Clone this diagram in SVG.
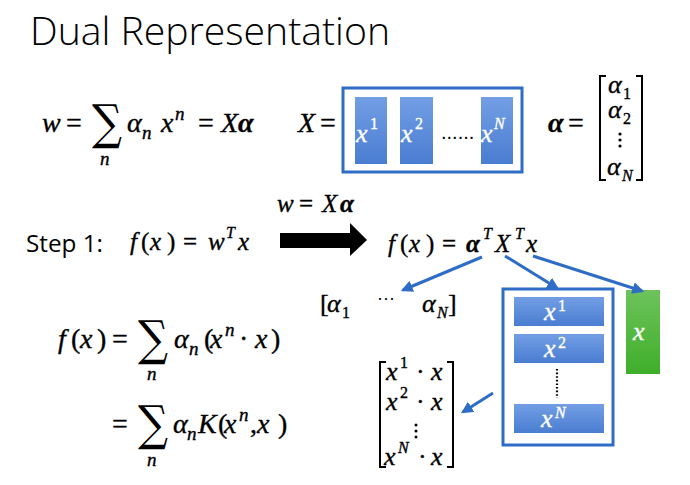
<svg xmlns="http://www.w3.org/2000/svg" width="690" height="485" viewBox="0 0 690 485">
<style>
.m{font-family:"Liberation Serif","DejaVu Serif",serif;font-style:italic;font-size:28px;fill:#000;stroke:#000;stroke-width:0.35px}
.u{font-style:normal}
.b{font-weight:bold}
.s{font-size:19px}
.f25{font-size:25px}
.f26{font-size:26px}
.f15{font-size:16px}
.f16{font-size:16px}
.w{fill:#fff;stroke:#fff}
.sum{font-family:"DejaVu Serif",serif;font-size:48px;font-style:normal}
.br{fill:none;stroke:#000;stroke-width:2}
.box{fill:#fff;stroke:#2E6CC6;stroke-width:3}
.bl{fill:url(#gb)}
.gr{fill:url(#gg)}
.con{stroke:#2E6CC6;stroke-width:3;fill:none;marker-end:url(#ah)}
</style>
<defs>
<linearGradient id="gb" x1="0" y1="0" x2="0" y2="1"><stop offset="0" stop-color="#729EE4"/><stop offset="1" stop-color="#4A7DD1"/></linearGradient>
<linearGradient id="gg" x1="0" y1="0" x2="0" y2="1"><stop offset="0" stop-color="#6DC35B"/><stop offset="1" stop-color="#3FAE2A"/></linearGradient>
<marker id="ah" markerWidth="4" markerHeight="4" refX="3.2" refY="2" orient="auto" markerUnits="strokeWidth"><path d="M0,0 L4,2 L0,4 z" fill="#2E6CC6"/></marker>
</defs>
<rect width="690" height="485" fill="#fff"/>
<text x="30" y="45" font-family="Open Sans" font-weight="300" font-size="39" textLength="360" lengthAdjust="spacingAndGlyphs">Dual Representation</text>

<g id="eq-w">
<text class="m" y="132"><tspan x="42">w</tspan><tspan x="66" class="u">=</tspan><tspan x="127">α</tspan><tspan x="161">x</tspan><tspan x="198" class="u">=</tspan><tspan x="221">X</tspan><tspan x="238" class="b">α</tspan></text>
<text class="m s" x="142" y="139">n</text>
<text class="m s" x="175" y="120">n</text>
<text class="sum" x="92" y="139" textLength="30" lengthAdjust="spacingAndGlyphs">∑</text>
<text class="m s" x="100" y="165">n</text>
</g>

<g id="matrix-X">
<text class="m" y="132"><tspan x="298">X</tspan><tspan x="320" class="u">=</tspan></text>
<rect class="box" x="343" y="88" width="179" height="84"/>
<rect class="bl" x="355" y="97" width="32" height="67"/>
<rect class="bl" x="400" y="97" width="33" height="67"/>
<rect class="bl" x="481" y="97" width="32" height="67"/>
<text class="m w f26" x="356" y="142">x</text><text class="m w u f16" x="370" y="129">1</text>
<text class="m w f26" x="401" y="142">x</text><text class="m w u f16" x="415" y="129">2</text>
<text class="m w f26" x="481" y="142">x</text><text class="m w f16" x="494" y="129">N</text>
<text x="441" y="139" font-family="Liberation Sans" font-size="20">......</text>
</g>

<g id="vector-alpha">
<text class="m b" x="548" y="132">α</text><text class="m u" x="568" y="132">=</text>
<path class="br" d="M606,76 H600 V180 H606 M636,76 H642 V180 H636"/>
<text class="m f26" x="608" y="93">α</text><text class="m u f16" x="623" y="99">1</text>
<text class="m f26" x="608" y="118">α</text><text class="m u f16" x="623" y="124">2</text>
<circle cx="620" cy="134" r="1.6"/><circle cx="620" cy="140" r="1.6"/><circle cx="620" cy="146" r="1.6"/>
<text class="m f26" x="607" y="175">α</text><text class="m f16" x="622" y="181">N</text>
</g>

<g id="step1">
<text x="26" y="252" font-family="Open Sans" font-size="24" textLength="77" lengthAdjust="spacingAndGlyphs">Step 1:</text>
<text class="m f25" y="250"><tspan x="130">f</tspan><tspan x="141" class="u">(</tspan><tspan x="150">x</tspan><tspan x="167" class="u">)</tspan><tspan x="183" class="u">=</tspan><tspan x="208">w</tspan><tspan x="238">x</tspan></text>
<text class="m f15" x="226" y="238">T</text>
</g>

<g id="subst">
<text class="m f25" y="212"><tspan x="277">w</tspan><tspan x="299" class="u">=</tspan><tspan x="322">X</tspan><tspan x="340" class="b">α</tspan></text>
<polygon points="280,233 350,233 350,223 367,240 350,256 350,248 280,248" fill="#000"/>
</g>

<g id="f-dual">
<text class="m f25" y="252"><tspan x="388">f</tspan><tspan x="400" class="u">(</tspan><tspan x="409">x</tspan><tspan x="426" class="u">)</tspan><tspan x="442" class="u">=</tspan><tspan x="466" class="b">α</tspan><tspan x="495">X</tspan><tspan x="526">x</tspan></text>
<text class="m f15" x="483" y="239">T</text>
<text class="m f15" x="515" y="239">T</text>
</g>

<g id="alpha-row">
<text class="m f26" y="312"><tspan x="320" class="u">[</tspan><tspan x="327">α</tspan><tspan x="422">α</tspan><tspan x="448" class="u">]</tspan></text>
<text class="m u f16" x="342" y="318">1</text>
<text class="m f16" x="437" y="318">N</text>
<text x="377" y="304" font-family="Liberation Sans" font-size="18">···</text>
</g>

<g id="X-col">
<rect class="box" x="503" y="289" width="110" height="156"/>
<rect class="bl" x="514" y="297" width="90" height="29"/>
<rect class="bl" x="514" y="334" width="90" height="29"/>
<rect class="bl" x="514" y="404" width="90" height="29"/>
<text class="m w f26" x="544" y="320">x</text><text class="m w u f16" x="558" y="311">1</text>
<text class="m w f26" x="544" y="357">x</text><text class="m w u f16" x="558" y="348">2</text>
<text class="m w f26" x="541" y="427">x</text><text class="m w f16" x="555" y="418">N</text>
<line x1="557" y1="369" x2="557" y2="398" stroke="#000" stroke-width="2.2" stroke-dasharray="1.6 2"/>
</g>

<g id="x-vec">
<rect class="gr" x="626" y="290" width="34" height="84"/>
<text class="m w f26" x="633" y="340">x</text>
</g>

<g id="dot-matrix">
<path class="br" d="M386,362 H380 V467 H386 M447,362 H453 V467 H447"/>
<text class="m f26" x="386" y="380">x</text><text class="m u f16" x="400" y="368">1</text><text class="m u f26" x="416" y="380">·</text><text class="m f26" x="431" y="380">x</text>
<text class="m f26" x="386" y="410">x</text><text class="m u f16" x="400" y="398">2</text><text class="m u f26" x="416" y="410">·</text><text class="m f26" x="431" y="410">x</text>
<circle cx="416" cy="425" r="1.5"/><circle cx="416" cy="431" r="1.5"/><circle cx="416" cy="437" r="1.5"/>
<text class="m f26" x="384" y="465">x</text><text class="m f16" x="398" y="453">N</text><text class="m u f26" x="418" y="465">·</text><text class="m f26" x="431" y="465">x</text>
</g>

<g id="f-sum">
<text class="m" y="348"><tspan x="58">f</tspan><tspan x="71" class="u">(</tspan><tspan x="80">x</tspan><tspan x="97" class="u">)</tspan><tspan x="112" class="u">=</tspan><tspan x="174">α</tspan><tspan x="204" class="u">(</tspan><tspan x="210">x</tspan><tspan x="239" class="u">·</tspan><tspan x="255">x</tspan><tspan x="271" class="u">)</tspan></text>
<text class="sum" x="138" y="355" textLength="30" lengthAdjust="spacingAndGlyphs">∑</text>
<text class="m s" x="147" y="380">n</text>
<text class="m s" x="189" y="355">n</text>
<text class="m s" x="225" y="336">n</text>
</g>

<g id="kernel-sum">
<text class="m" y="433"><tspan x="112" class="u">=</tspan><tspan x="173">α</tspan><tspan x="198">K</tspan><tspan x="218" class="u">(</tspan><tspan x="224">x</tspan><tspan x="250" class="u">,</tspan><tspan x="257">x</tspan><tspan x="278" class="u">)</tspan></text>
<text class="sum" x="138" y="440" textLength="30" lengthAdjust="spacingAndGlyphs">∑</text>
<text class="m s" x="147" y="466">n</text>
<text class="m s" x="187" y="440">n</text>
<text class="m s" x="239" y="421">n</text>
</g>

<g id="connectors">
<line class="con" x1="482" y1="257" x2="403" y2="290"/>
<line class="con" x1="505" y1="256" x2="557" y2="288"/>
<line class="con" x1="533" y1="256" x2="642" y2="291"/>
<line class="con" x1="493" y1="393" x2="463" y2="412"/>
</g>
</svg>
